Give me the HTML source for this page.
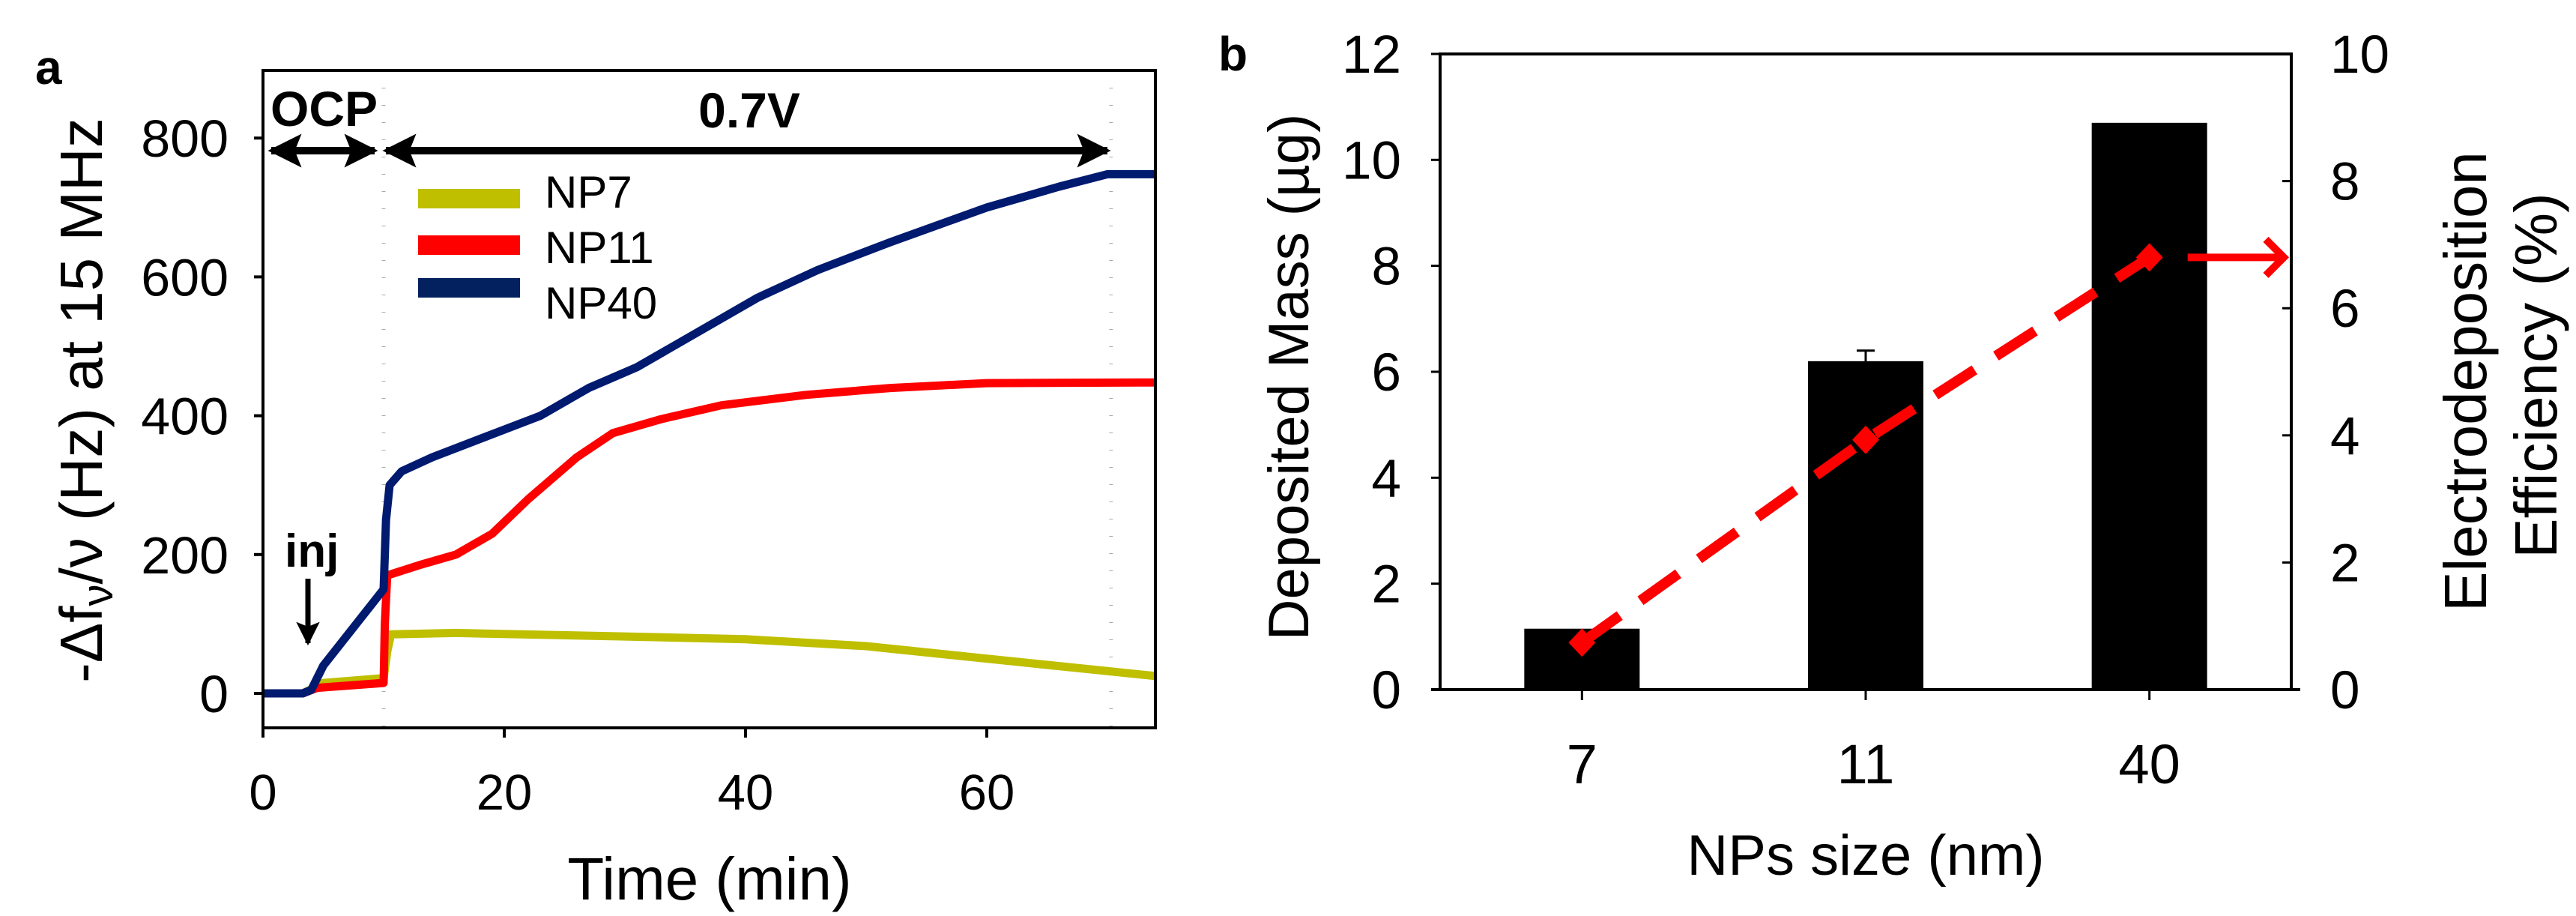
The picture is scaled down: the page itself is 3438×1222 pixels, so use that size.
<!DOCTYPE html>
<html><head><meta charset="utf-8"><style>
html,body{margin:0;padding:0;background:#fff;}
svg{display:block;font-family:"Liberation Sans",Arial,sans-serif;}
</style></head><body>
<svg id="fig" width="3438" height="1222" viewBox="0 0 3438 1222" xmlns="http://www.w3.org/2000/svg">
<rect width="3438" height="1222" fill="#fff"/>
<defs>
<marker id="ah2" viewBox="0 0 10 10" refX="9" refY="5" markerWidth="4.5" markerHeight="4.5" orient="auto-start-reverse"><path d="M0,0 L10,5 L0,10 L2,5 z" fill="#000"/></marker>
</defs>
<g id="pa"></g>
<g id="pb"></g>
</svg>
<script>
// ---------- Panel a data ----------
const aTime7  = [0,3.3,5,10,10.3,10.6,16,30,40,50,60,74];
const aVal7   = [0,0,15,22,60,85,87,82,78,68,50,25];
const aTime11 = [0,3.3,4.5,10,10.1,10.3,13,16,19,22,26,29,33,38,45,52,60,74];
const aVal11  = [0,0,8,15,100,170,185,200,230,280,340,375,395,415,430,440,447,448];
const aTime40 = [0,3.3,4,5,10,10.2,10.5,11.5,14,20,23,27,31,36,41,46,52,60,66,70,74];
const aVal40  = [0,0,5,40,150,250,300,320,340,380,400,440,470,520,570,610,650,700,730,748,748];
const aXTicks = [0,20,40,60];
const aYTicks = [0,200,400,600,800];
const aLegend = ["NP7","NP11","NP40"];
// ---------- Panel b data ----------
const bCats = ["7","11","40"];
const bMass = [1.15,6.2,10.7];
const bErr  = [0,0.2,0];
const bEff  = [0.74,3.93,6.8];
const bLeftTicks  = [0,2,4,6,8,10,12];
const bRightTicks = [0,2,4,6,8,10];

const NS="http://www.w3.org/2000/svg";
function mk(parent,tag,attrs,text){const e=document.createElementNS(NS,tag);for(const k in attrs)e.setAttribute(k,attrs[k]);if(text!==undefined)e.textContent=text;parent.appendChild(e);return e;}

// ---------- Panel a ----------
const pa=document.getElementById('pa');
const aL=351,aR=1542,aT=94,aB=971;
function xa(t){return aL+t*16.1;}
function ya(v){return 925-v*0.926;}
[10,70.3].forEach(function(t){
  const g=mk(pa,'line',{x1:xa(t),x2:xa(t),y1:aT,y2:aB,stroke:'#aaa','stroke-width':5,'stroke-dasharray':'1 22'});
  
  
});
function series(ts,vs,color,name){
  let d='';ts.forEach(function(t,i){d+=(i?'L':'M')+xa(t).toFixed(1)+','+ya(vs[i]).toFixed(1);});
  const p=mk(pa,'path',{d:d,fill:'none',stroke:color,'stroke-width':11,'stroke-linejoin':'round'});
  
  
}
series(aTime7,aVal7,'#bfbf00','series-np7');
series(aTime11,aVal11,'#ff0000','series-np11');
series(aTime40,aVal40,'#001a70','series-np40');
const boxA=mk(pa,'rect',{x:aL,y:aT,width:aR-aL,height:aB-aT,fill:'none',stroke:'#000','stroke-width':4});


aYTicks.forEach(function(v){
  mk(pa,'line',{x1:aL-12,x2:aL,y1:ya(v),y2:ya(v),stroke:'#000','stroke-width':4});
  const t=mk(pa,'text',{x:305,y:ya(v)+25,'text-anchor':'end','font-size':70},String(v));
  
  
});
aXTicks.forEach(function(v){
  mk(pa,'line',{x1:xa(v),x2:xa(v),y1:aB,y2:aB+13,stroke:'#000','stroke-width':4});
  const t=mk(pa,'text',{x:xa(v),y:1080,'text-anchor':'middle','font-size':67},String(v));
  
  
});
const legColors=['#bfbf00','#ff0000','#03215f'];
const legSwY=[265,327,384];
const legTxtY=[277,351,425];
aLegend.forEach(function(n,i){
  const r=mk(pa,'rect',{x:558,y:legSwY[i]-13,width:136,height:26,fill:legColors[i]});
  
  
  const t=mk(pa,'text',{x:727,y:legTxtY[i],'font-size':60},n);
  
  
});
let e;
e=mk(pa,'line',{x1:362,y1:201,x2:500,y2:201,stroke:'#000','stroke-width':10,'marker-start':'url(#ah2)','marker-end':'url(#ah2)'});


e=mk(pa,'line',{x1:515,y1:201,x2:1478,y2:201,stroke:'#000','stroke-width':10,'marker-start':'url(#ah2)','marker-end':'url(#ah2)'});


e=mk(pa,'text',{x:361,y:168,'font-size':66,'font-weight':'bold'},'OCP');


e=mk(pa,'text',{x:1000,y:170,'font-size':66,'font-weight':'bold','text-anchor':'middle'},'0.7V');


e=mk(pa,'text',{x:380,y:756,'font-size':62,'font-weight':'bold'},'inj');


e=mk(pa,'line',{x1:411,y1:772,x2:411,y2:858,stroke:'#000','stroke-width':7,'marker-end':'url(#ah2)'});


e=mk(pa,'text',{x:47,y:112,'font-size':64,'font-weight':'bold'},'a');


e=mk(pa,'text',{x:947,y:1200,'font-size':80,'text-anchor':'middle'},'Time (min)');


e=mk(pa,'text',{x:0,y:0,'font-size':80,'text-anchor':'middle',transform:'translate(136,534) rotate(-90)'});
e.innerHTML='-\u0394f<tspan font-size="58" dy="14">\u03bd</tspan><tspan dy="-14">/\u03bd (Hz) at 15 MHz</tspan>';



// ---------- Panel b ----------
const pb=document.getElementById('pb');
const bL=1922,bR=3058,bT=72,bB=920;
const band=(bR-bL)/bCats.length;
function xb(i){return bL+band*(i+0.5);}
function yb(v){return bB-v*70.67;}
function yr(v){return bB-v*84.8;}
const barW=154;
bMass.forEach(function(v,i){
  const r=mk(pb,'rect',{x:xb(i)-barW/2,y:yb(v),width:barW,height:bB-yb(v),fill:'#000'});
  
  
  if(bErr[i]>0){
    const g=mk(pb,'path',{d:'M'+xb(i)+','+yb(v)+'V'+yb(v+bErr[i])+'M'+(xb(i)-12)+','+yb(v+bErr[i])+'H'+(xb(i)+12),stroke:'#000','stroke-width':3,fill:'none'});
    
    
  }
});
let d='';bEff.forEach(function(v,i){d+=(i?'L':'M')+xb(i).toFixed(1)+','+yr(v).toFixed(1);});
e=mk(pb,'path',{d:d,fill:'none',stroke:'#ff0000','stroke-width':14,'stroke-dasharray':'62 34'});


bEff.forEach(function(v,i){
  const x=xb(i),y=yr(v);
  const p=mk(pb,'path',{d:'M'+x+','+(y-19)+'L'+(x+18)+','+y+'L'+x+','+(y+19)+'L'+(x-18)+','+y+'Z',fill:'#ff0000'});
  
  
});
const ay=yr(bEff[2]);
e=mk(pb,'path',{d:'M'+(xb(2)+51)+','+ay+'H'+(bR-10)+'M'+(bR-34)+','+(ay-24)+'L'+(bR-10)+','+ay+'L'+(bR-34)+','+(ay+24),fill:'none',stroke:'#ff0000','stroke-width':10,'stroke-linejoin':'miter'});


e=mk(pb,'rect',{x:bL,y:bT,width:bR-bL,height:bB-bT,fill:'none',stroke:'#000','stroke-width':4});


mk(pb,'line',{x1:bL-12,x2:bR+12,y1:bB,y2:bB,stroke:'#000','stroke-width':4});
bLeftTicks.forEach(function(v){
  mk(pb,'line',{x1:bL-12,x2:bL,y1:yb(v),y2:yb(v),stroke:'#000','stroke-width':3});
  const t=mk(pb,'text',{x:1870,y:yb(v)+25,'text-anchor':'end','font-size':71},String(v));
  
  
});
bRightTicks.forEach(function(v){
  mk(pb,'line',{x1:bR-12,x2:bR,y1:yr(v),y2:yr(v),stroke:'#000','stroke-width':3});
  const t=mk(pb,'text',{x:3110,y:yr(v)+25,'font-size':71},String(v));
  
  
});
bCats.forEach(function(c,i){
  mk(pb,'line',{x1:xb(i),x2:xb(i),y1:bB,y2:bB+14,stroke:'#000','stroke-width':3});
  const t=mk(pb,'text',{x:xb(i),y:1045,'text-anchor':'middle','font-size':74},c);
  
  
});
e=mk(pb,'text',{x:2490,y:1167,'font-size':76,'text-anchor':'middle'},'NPs size (nm)');


e=mk(pb,'text',{x:0,y:0,'font-size':76,'text-anchor':'middle',transform:'translate(1746,503) rotate(-90)'},'Deposited Mass (\u00b5g)');


e=mk(pb,'text',{x:0,y:0,'font-size':80,'text-anchor':'middle',transform:'translate(3318,509) rotate(-90)'},'Electrodeposition');


e=mk(pb,'text',{x:0,y:0,'font-size':80,'text-anchor':'middle',transform:'translate(3412,501) rotate(-90)'},'Efficiency (%)');


e=mk(pb,'text',{x:1626,y:94,'font-size':64,'font-weight':'bold'},'b');


</script>
</body></html>
